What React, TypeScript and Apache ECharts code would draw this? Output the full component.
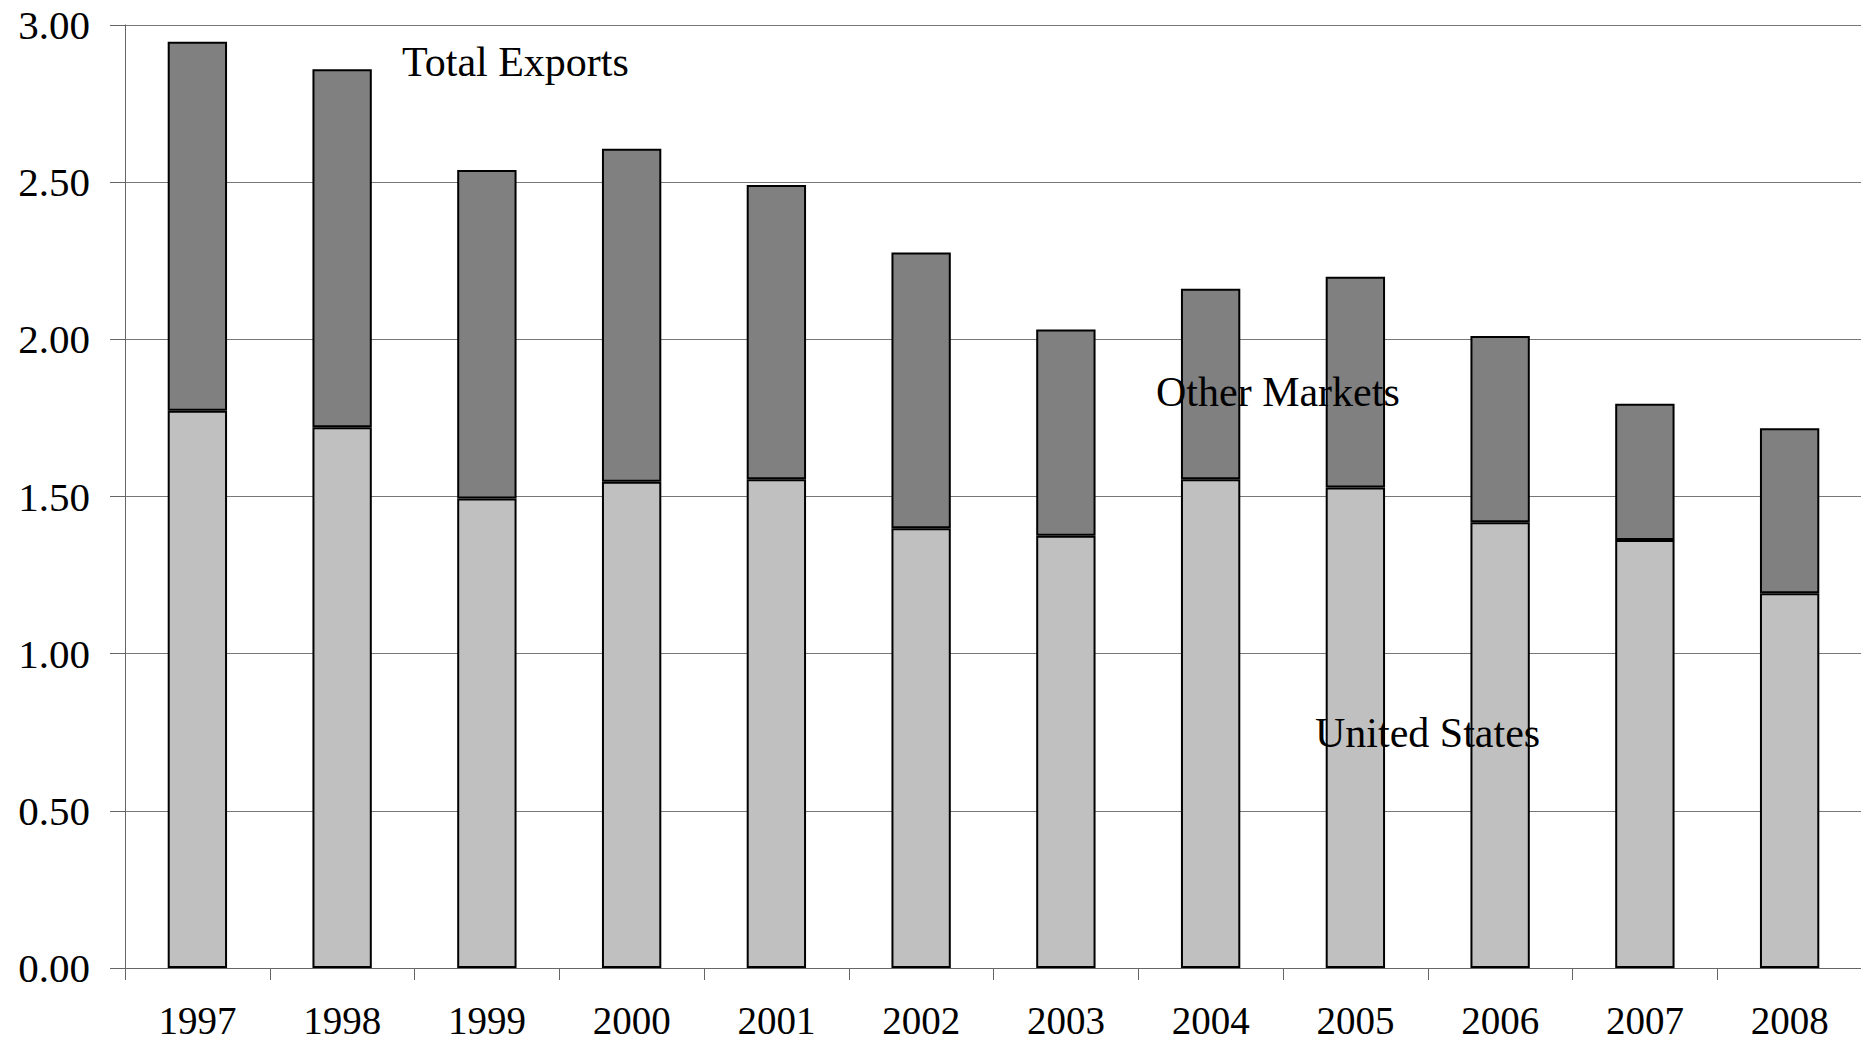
import React, { useEffect, useRef } from "react";
import * as echarts from "echarts";

const years = ["1997", "1998", "1999", "2000", "2001", "2002", "2003", "2004", "2005", "2006", "2007", "2008"];
const unitedStates = [1.773, 1.72, 1.494, 1.547, 1.555, 1.399, 1.375, 1.555, 1.529, 1.418, 1.362, 1.192];
const totalExports = [2.947, 2.859, 2.539, 2.606, 2.491, 2.276, 2.031, 2.161, 2.199, 2.011, 1.795, 1.717];
const otherMarkets = totalExports.map((t, i) => +(t - unitedStates[i]).toFixed(3));

const FONT = "'Liberation Serif', 'Times New Roman', serif";

export default function App() {
  const ref = useRef<HTMLDivElement>(null);
  useEffect(() => {
    if (!ref.current) return;
    const chart = echarts.init(ref.current, undefined, { renderer: "svg" });
    chart.setOption({
      animation: false,
      backgroundColor: "#ffffff",
      grid: { left: 125, right: 7, top: 25, bottom: 74, containLabel: false },
      xAxis: {
        type: "category",
        data: years,
        axisLine: { lineStyle: { color: "#666", width: 1 } },
        axisTick: { show: true, length: 12, lineStyle: { color: "#666" } },
        axisLabel: { color: "#000", fontFamily: FONT, fontSize: 39, margin: 33, lineHeight: 39 },
        splitLine: { show: false },
      },
      yAxis: {
        type: "value",
        min: 0,
        max: 3,
        interval: 0.5,
        axisLine: { show: true, lineStyle: { color: "#666", width: 1 } },
        axisTick: { show: true, length: 15, lineStyle: { color: "#666" } },
        axisLabel: {
          color: "#000",
          fontFamily: FONT,
          fontSize: 41,
          margin: 35,
          formatter: (v: number) => v.toFixed(2),
        },
        splitLine: { show: true, lineStyle: { color: "#777", width: 1 } },
      },
      series: [
        {
          name: "United States",
          type: "bar",
          stack: "total",
          data: unitedStates,
          barWidth: "41%",
          itemStyle: { color: "#c0c0c0", borderColor: "#000", borderWidth: 2 },
        },
        {
          name: "Other Markets",
          type: "bar",
          stack: "total",
          data: otherMarkets,
          barWidth: "41%",
          itemStyle: { color: "#808080", borderColor: "#000", borderWidth: 2 },
        },
      ],
      graphic: [
        {
          type: "text",
          left: 402,
          top: 41,
          z: 100,
          style: { text: "Total Exports", fontFamily: FONT, fontSize: 42, fill: "#000" },
        },
        {
          type: "text",
          left: 1156,
          top: 371,
          z: 100,
          style: { text: "Other Markets", fontFamily: FONT, fontSize: 42, fill: "#000" },
        },
        {
          type: "text",
          left: 1315,
          top: 712,
          z: 100,
          style: { text: "United States", fontFamily: FONT, fontSize: 42, fill: "#000" },
        },
      ],
    });
    return () => chart.dispose();
  }, []);
  return <div ref={ref} style={{ width: 1869, height: 1042, margin: -8 }} />;
}
